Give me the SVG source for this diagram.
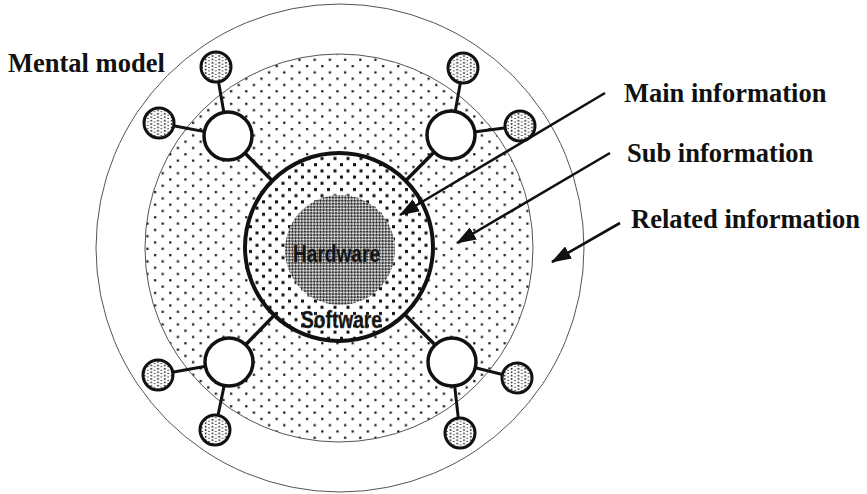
<svg xmlns="http://www.w3.org/2000/svg" width="867" height="494" viewBox="0 0 867 494">
<style>
.lbl{font-family:"Liberation Serif","Times New Roman",serif;font-weight:bold;font-size:26.5px;fill:#111}
.core{font-family:"Liberation Sans",Arial,sans-serif;font-weight:bold;font-size:23px;fill:#111;stroke:#444;stroke-width:0.4}
.ring{fill:url(#pSub);stroke:#555;stroke-width:1}
.hub{fill:url(#pHub);stroke:#111;stroke-width:4}
.node{fill:#fff;stroke:#111;stroke-width:3.5}
.sat{fill:url(#pSat);stroke:#111;stroke-width:3}
.spoke{stroke:#111;stroke-width:3.5;fill:none}
.link{stroke:#111;stroke-width:3;fill:none}
.arr{stroke:#111;stroke-width:2.6;fill:none;marker-end:url(#ah)}
</style>
<defs>
<pattern id="pSub" patternUnits="userSpaceOnUse" width="15.2" height="12.6">
<rect width="15.2" height="12.6" fill="#fff"/>
<rect x="2" y="2" width="2.2" height="2.2" fill="#111"/>
<rect x="9.6" y="8.3" width="2.2" height="2.2" fill="#111"/>
</pattern>
<pattern id="pHub" patternUnits="userSpaceOnUse" width="13" height="12.4">
<rect width="13" height="12.4" fill="#fff"/>
<rect x="2" y="2" width="3" height="3" fill="#111"/>
<rect x="8.5" y="8.2" width="3" height="3" fill="#111"/>
</pattern>
<pattern id="pCore" patternUnits="userSpaceOnUse" width="4.4" height="4.4" patternTransform="rotate(45)">
<rect width="4.4" height="4.4" fill="#e0e0e0"/>
<rect width="2.2" height="2.2" fill="#333"/>
<rect x="2.2" y="2.2" width="2.2" height="2.2" fill="#333"/>
</pattern>
<pattern id="pSat" patternUnits="userSpaceOnUse" width="6.8" height="3.4">
<rect width="6.8" height="3.4" fill="#fff"/>
<rect x="0.8" y="0.8" width="1.6" height="1.6" fill="#222"/>
<rect x="4.2" y="2.5" width="1.6" height="1.6" fill="#222"/>
</pattern>
<marker id="ah" markerUnits="userSpaceOnUse" markerWidth="20" markerHeight="14" refX="19" refY="7" orient="auto">
<path d="M0,0 L20,7 L0,14 z" fill="#111"/>
</marker>
</defs>
<rect width="867" height="494" fill="#fff"/>

<g id="related-information">
<circle cx="340" cy="248" r="244" fill="none" stroke="#555" stroke-width="1"/>
</g>
<g id="sub-information">
<circle class="ring" cx="339" cy="248" r="194"/>
</g>
<g id="main-information">
<circle class="hub" cx="339" cy="247" r="94"/>
</g>
<g id="hardware">
<circle cx="340" cy="250" r="55" fill="url(#pCore)"/>
<text class="core" x="336.5" y="262" text-anchor="middle" textLength="87" lengthAdjust="spacingAndGlyphs">Hardware</text>
</g>
<g id="software">
<text class="core" x="341.5" y="328" text-anchor="middle" textLength="81" lengthAdjust="spacingAndGlyphs">Software</text>
</g>

<g id="connectors">
<line class="spoke" x1="272.1" y1="180.5" x2="245.6" y2="153.8"/>
<line class="spoke" x1="405.9" y1="180.5" x2="433.4" y2="152.8"/>
<line class="spoke" x1="273.1" y1="316.4" x2="246.4" y2="344"/>
<line class="spoke" x1="405.9" y1="315.5" x2="434.4" y2="344.3"/>
<line class="link" x1="223.7" y1="111.4" x2="218.7" y2="82.8"/>
<line class="link" x1="203.4" y1="131.4" x2="174.7" y2="126"/>
<line class="link" x1="455.4" y1="110.4" x2="460.2" y2="83.7"/>
<line class="link" x1="475.8" y1="131.8" x2="504.1" y2="128.1"/>
<line class="link" x1="204.4" y1="366.5" x2="173.7" y2="372.1"/>
<line class="link" x1="224" y1="386.5" x2="218.2" y2="414.3"/>
<line class="link" x1="476.3" y1="368" x2="501.5" y2="374.2"/>
<line class="link" x1="454.8" y1="386.9" x2="458.2" y2="417.1"/>
<line class="arr" x1="605" y1="93" x2="400" y2="215"/>
<line class="arr" x1="610" y1="153" x2="457" y2="243"/>
<line class="arr" x1="620" y1="223" x2="552" y2="262"/>
</g>

<g id="node-tl"><circle class="node" cx="228" cy="136" r="24"/></g>
<g id="node-tr"><circle class="node" cx="451" cy="135" r="24"/></g>
<g id="node-bl"><circle class="node" cx="229" cy="362" r="24"/></g>
<g id="node-br"><circle class="node" cx="452" cy="362" r="24"/></g>

<g id="sat-tl-top"><circle class="sat" cx="216" cy="67" r="15"/></g>
<g id="sat-tl-left"><circle class="sat" cx="159" cy="123" r="15"/></g>
<g id="sat-tr-top"><circle class="sat" cx="463" cy="68" r="15"/></g>
<g id="sat-tr-right"><circle class="sat" cx="520" cy="126" r="15"/></g>
<g id="sat-bl-left"><circle class="sat" cx="158" cy="375" r="15"/></g>
<g id="sat-bl-bottom"><circle class="sat" cx="215" cy="430" r="15"/></g>
<g id="sat-br-right"><circle class="sat" cx="517" cy="378" r="15"/></g>
<g id="sat-br-bottom"><circle class="sat" cx="460" cy="433" r="15"/></g>

<g id="labels">
<text class="lbl" x="8" y="72">Mental model</text>
<text class="lbl" x="624" y="102">Main information</text>
<text class="lbl" x="627" y="162">Sub information</text>
<text class="lbl" x="631" y="228">Related information</text>
</g>
</svg>
